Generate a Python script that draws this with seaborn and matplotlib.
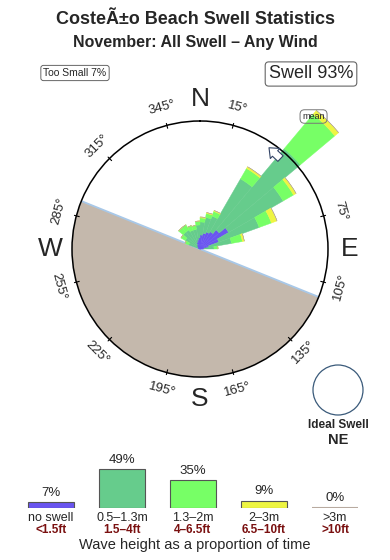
import numpy as np
import matplotlib
matplotlib.use('Agg')
import matplotlib.pyplot as plt
import seaborn as sns
import pandas as pd
from matplotlib.patches import FancyArrowPatch, Ellipse

sns.set_theme(style='white')
plt.rcParams['font.family'] = ['Liberation Sans', 'DejaVu Sans']

# ---------------- data ----------------
directions = [295, 305, 315, 325, 335, 345, 355, 5, 15, 25, 35, 45, 55, 65, 75, 85]
no_swell   = [2, 3, 4, 5, 7, 9, 11, 14, 16, 18, 20, 25, 33, 20, 9, 4]
h_05_13    = [10, 14, 18, 17, 13, 11, 13, 13, 16, 17, 61, 106, 63, 43, 23, 10]
h_13_2     = [4, 5, 6, 6, 5, 4, 4, 4, 4, 5, 12, 45, 12, 13, 11, 4]
h_2_3      = [0, 0, 0, 0, 0, 0, 0, 1, 1, 1, 2, 5, 3, 6, 2, 0]
h_gt3      = [0, 0, 0, 0, 0, 0, 0, 0, 0, 0, 0, 0, 0, 0, 0, 0]

legend_labels = ['no swell', '0.5–1.3m', '1.3–2m', '2–3m', '>3m']
legend_feet = ['<1.5ft', '1.5–4ft', '4–6.5ft', '6.5–10ft', '>10ft']
legend_pct = [7, 49, 35, 9, 0]

degree_labels = [15, 75, 105, 135, 165, 195, 225, 255, 285, 315, 345]
compass = {'N': 0, 'E': 90, 'S': 180, 'W': 270}

land_from, land_to = 112, 292   # shoreline (degrees)
mean_dir = 40.6

colors = ['#6a55f0', '#66cc8c', '#77ff66', '#eef542', '#b8aaa0']

# ---------------- figure ----------------
W, H = 390, 560
fig = plt.figure(figsize=(W / 100, H / 100), dpi=100)
fig.patch.set_facecolor('white')

cx, cy, R = 200, 249, 128
ax = fig.add_axes([(cx - R) / W, (H - cy - R) / H, 2 * R / W, 2 * R / H], projection='polar')
ax.set_theta_zero_location('N')
ax.set_theta_direction(-1)
ax.set_ylim(0, R)
ax.grid(False)
ax.set_xticks([])
ax.set_yticks([])
ax.set_facecolor('white')
ax.spines['polar'].set_color('black')
ax.spines['polar'].set_linewidth(1.1)
ax.spines['polar'].set_zorder(5)

# land
span = (land_to - land_from) % 360
mid = land_from + span / 2
ax.bar(np.radians(mid), R, width=np.radians(span), bottom=0, color='#c4b8ac',
       edgecolor='none', zorder=1)
for a in (land_from, land_to):
    ax.plot([np.radians(a), np.radians(a)], [0, R], color='#a8c8e8', lw=1.3, zorder=1.5)

# stacked rose bars
theta = np.radians(directions)
width = np.radians(10)
bottom = np.zeros(len(directions))
for vals, col in zip([no_swell, h_05_13, h_13_2, h_2_3, h_gt3], colors):
    v = np.array(vals, dtype=float)
    ax.bar(theta, v, width=width, bottom=bottom, color=col, edgecolor=col,
           linewidth=0.3, clip_on=False, zorder=2)
    bottom = bottom + v

# degree ticks and labels
for d in degree_labels:
    t = np.radians(d)
    ax.plot([t, t], [R - 3, R + 2], color='black', lw=0.8, clip_on=False, zorder=6)
    rot = 180 - d if 90 < d < 270 else -d
    ax.text(t, 146, f'{d}°', rotation=rot, ha='center', va='center', fontsize=9.5)

for k, d in compass.items():
    ax.text(np.radians(d), 150, k, ha='center', va='center', fontsize=19)

# mean marker
ax.text(np.radians(mean_dir), 174.5, 'mean', ha='center', va='center', fontsize=6.5,
        bbox=dict(boxstyle='round,pad=0.25,rounding_size=0.5', fc='none', ec='#777777', lw=0.7),
        zorder=7)
arr = FancyArrowPatch((np.radians(43), 121), (np.radians(33), 123),
                      arrowstyle='simple,head_length=0.6,head_width=1.0,tail_width=0.55',
                      mutation_scale=10, fc='white', ec='#334466', lw=0.8, zorder=7,
                      clip_on=False)
ax.add_patch(arr)

# ---------------- texts ----------------
fig.text(0.5, 1 - 20 / H, 'CosteÃ±o Beach Swell Statistics', ha='center', va='center',
         fontsize=13, fontweight='bold')
fig.text(0.5, 1 - 42 / H, 'November: All Swell – Any Wind', ha='center', va='center',
         fontsize=11.5, fontweight='bold')
fig.text(75 / W, 1 - 73 / H, 'Too Small 7%', ha='center', va='center', fontsize=7.5,
         bbox=dict(boxstyle='round,pad=0.25', fc='white', ec='#666666', lw=0.7))
fig.text(311 / W, 1 - 74 / H, 'Swell 93%', ha='center', va='center', fontsize=13,
         bbox=dict(boxstyle='round,pad=0.2', fc='white', ec='#666666', lw=0.8))

# ideal swell
fig.patches.append(Ellipse((338 / W, 1 - 390 / H), 50 / W, 50 / H, transform=fig.transFigure,
                           fc='white', ec='#3a5a7a', lw=0.9))
fig.text(338 / W, 1 - 425 / H, 'Ideal Swell', ha='center', va='center', fontsize=8.5,
         fontweight='bold')
fig.text(338 / W, 1 - 440 / H, 'NE', ha='center', va='center', fontsize=10.5,
         fontweight='bold')

# ---------------- legend bars (seaborn) ----------------
base = 507.7
pxper = 0.79
lax = fig.add_axes([0, (H - base) / H, 1, 60 / H])
df = pd.DataFrame({'cat': legend_labels, 'pct': legend_pct})
sns.barplot(data=df, x='cat', y='pct', hue='cat', palette=colors, width=0.634,
            saturation=1, edgecolor='#555555', linewidth=0.8, legend=False, ax=lax)
lax.set_xlim(-51 / 71, (W - 51) / 71)
lax.set_ylim(0, 60 / pxper)
lax.axis('off')
for p in lax.patches:
    if p.get_height() == 0:
        p.set_edgecolor(colors[4])
        p.set_linewidth(1.5)
for i, p in enumerate(legend_pct):
    lax.annotate(f'{p}%', (i, p), xytext=(0, 2.5), textcoords='offset points',
                 ha='center', va='bottom', fontsize=9.5, annotation_clip=False)
for i, (lab, ft) in enumerate(zip(legend_labels, legend_feet)):
    x = (51 + 71 * i) / W
    fig.text(x, 1 - 518 / H, lab, ha='center', va='center', fontsize=9)
    fig.text(x, 1 - 530 / H, ft, ha='center', va='center', fontsize=8.5,
             fontweight='bold', color='#7a1010')
fig.text(0.5, 1 - 545 / H, 'Wave height as a proportion of time', ha='center', va='center',
         fontsize=10.5)

fig.savefig('out.png', dpi=100)
